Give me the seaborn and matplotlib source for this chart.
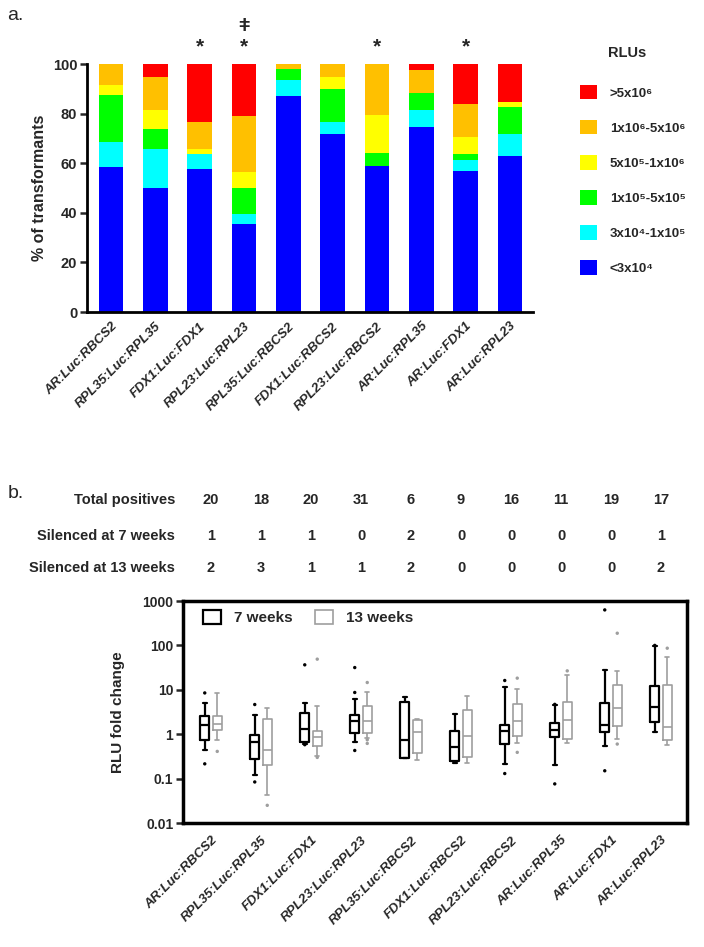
import numpy as np
import pandas as pd
import seaborn as sns
import matplotlib.pyplot as plt
import matplotlib.transforms as mtransforms
from matplotlib.patches import Patch
from matplotlib.ticker import NullLocator

# constructs shared by both panels
constructs = ["AR:Luc:RBCS2", "RPL35:Luc:RPL35", "FDX1:Luc:FDX1", "RPL23:Luc:RPL23",
              "RPL35:Luc:RBCS2", "FDX1:Luc:RBCS2", "RPL23:Luc:RBCS2", "AR:Luc:RPL35",
              "AR:Luc:FDX1", "AR:Luc:RPL23"]

# panel a: % of transformants in each RLU bin (bottom to top)
rlu_bins = ["<3x10\u2074", "3x10\u2074-1x10\u2075", "1x10\u2075-5x10\u2075",
            "5x10\u2075-1x10\u2076", "1x10\u2076-5x10\u2076", ">5x10\u2076"]
bin_colors = ["#0000ff", "#00ffff", "#00ff00", "#ffff00", "#ffc000", "#ff0000"]
pct_lt3e4 = [58.3, 50.1, 57.5, 35.3, 87.2, 71.9, 58.9, 74.4, 56.8, 63.0]
pct_3e4_1e5 = [10.3, 15.6, 6.4, 4.3, 6.5, 4.8, 0.0, 7.0, 4.6, 8.7]
pct_1e5_5e5 = [18.9, 7.9, 0.0, 10.5, 4.2, 13.1, 5.2, 6.9, 2.3, 10.9]
pct_5e5_1e6 = [4.0, 8.0, 1.9, 6.2, 0.0, 5.0, 15.3, 0.0, 6.8, 2.2]
pct_1e6_5e6 = [8.5, 13.0, 10.7, 22.8, 2.1, 5.2, 20.6, 9.4, 13.5, 0.0]
pct_gt5e6 = [0.0, 5.4, 23.5, 20.9, 0.0, 0.0, 0.0, 2.3, 16.0, 15.2]
star_marks = ["", "", "*", "*", "", "", "*", "", "*", ""]
dagger_marks = ["", "", "", "\u01c2", "", "", "", "", "", ""]

# panel b: table rows
total_positives = [20, 18, 20, 31, 6, 9, 16, 11, 19, 17]
silenced_7wk = [1, 1, 1, 0, 2, 0, 0, 0, 0, 1]
silenced_13wk = [2, 3, 1, 1, 2, 0, 0, 0, 0, 2]

# panel b: box summaries (whisker low, q1, median, q3, whisker high)
times = ["7 weeks", "13 weeks"]
time_colors = ["#000000", "#9e9e9e"]
box_7wk = [[0.45, 0.745, 1.6, 2.6, 5.1], [0.121, 0.283, 0.67, 0.95, 2.77],
           [0.6, 0.67, 1.32, 2.97, 5.1], [0.68, 1.07, 2.03, 2.68, 6.1],
           [0.29, 0.29, 0.73, 5.4, 6.8], [0.22, 0.255, 0.51, 1.21, 2.9],
           [0.21, 0.6, 1.17, 1.6, 11.5], [0.2, 0.87, 1.25, 1.77, 4.5],
           [0.55, 1.11, 1.62, 5.1, 28], [1.15, 1.86, 4.0, 11.9, 96]]
box_13wk = [[0.73, 1.27, 1.68, 2.6, 8.4], [0.042, 0.2, 0.45, 2.25, 3.85],
            [0.325, 0.53, 0.86, 1.19, 4.4], [0.81, 1.07, 2.0, 4.3, 8.8],
            [0.26, 0.38, 1.15, 2.07, 2.2], [0.226, 0.31, 0.89, 3.47, 7.2],
            [0.65, 0.9, 2.0, 4.7, 10.3], [0.65, 0.77, 2.07, 5.2, 21.7],
            [0.76, 1.51, 3.9, 12.9, 26], [0.585, 0.745, 1.44, 12.9, 55]]
fliers_7wk = [[8.5, 0.215], [4.66, 0.084], [36.5, 0.58], [31.7, 8.7, 0.43], [], [],
              [16.2, 0.13], [4.7, 0.076], [630, 0.15], [100]]
fliers_13wk = [[0.41], [0.025], [49, 0.3], [14.6, 0.75, 0.62], [], [],
               [18.3, 0.39], [26.7], [188, 0.6], [86.5]]

sns.set_style("white")
plt.rcParams['font.family'] = ['Liberation Sans', 'DejaVu Sans']

fig = plt.figure(figsize=(7.04, 9.47), dpi=100)
W, H = 704, 947
axa = fig.add_axes([87 / W, 1 - 312 / H, 446 / W, 248 / H])
axb = fig.add_axes([183 / W, 1 - 823 / H, 504 / W, 222 / H])

# ---- panel a: stacked bars, drawn as overlapping cumulative bars
segments = [pct_lt3e4, pct_3e4_1e5, pct_1e5_5e5, pct_5e5_1e6, pct_1e6_5e6, pct_gt5e6]
cum = np.cumsum(np.array(segments), axis=0)
for k in range(len(rlu_bins) - 1, -1, -1):
    sns.barplot(x=constructs, y=cum[k], color=bin_colors[k], saturation=1,
                width=0.56, errorbar=None, linewidth=0, ax=axa)
axa.set_xlim(-0.54, 9.52)
axa.set_ylim(0, 100)
axa.set_yticks([0, 20, 40, 60, 80, 100])
axa.set_xticks(range(len(constructs)))
axa.set_xticklabels(constructs, rotation=45, ha='right', rotation_mode='anchor',
                    fontstyle='italic', fontweight='bold', fontsize=9.5)
for lab in axa.get_yticklabels():
    lab.set_fontweight('bold')
    lab.set_fontsize(10.5)
axa.tick_params(axis='x', length=0, pad=6)
axa.tick_params(axis='y', length=5, width=1.8, direction='out', left=True, pad=2)
sns.despine(ax=axa)
for sp in ['left', 'bottom']:
    axa.spines[sp].set_linewidth(2)
    axa.spines[sp].set_color('black')
axa.set_ylabel('% of transformants', fontsize=11.5, fontweight='bold')
axa.yaxis.set_label_coords(-0.09, 0.5)

trans_a = mtransforms.blended_transform_factory(axa.transData, axa.transAxes)
for i, (s, d) in enumerate(zip(star_marks, dagger_marks)):
    if s:
        axa.text(i, 1.068, s, transform=trans_a, ha='center', va='center',
                 fontsize=15, fontweight='bold')
    if d:
        axa.text(i, 1.15, d, transform=trans_a, ha='center', va='center',
                 fontsize=14, fontweight='bold')

handles = [Patch(facecolor=c, edgecolor='none') for c in bin_colors]
fig.legend(handles[::-1], rlu_bins[::-1], loc='upper left',
           bbox_to_anchor=(580 / W, 1 - 85 / H), frameon=False,
           prop={'weight': 'bold', 'size': 9.5}, handlelength=1.3,
           handleheight=1.3, handletextpad=0.95, labelspacing=1.55,
           borderpad=0, borderaxespad=0)
fig.text(608 / W, 1 - 53 / H, 'RLUs', fontsize=10.5, fontweight='bold', va='center')
fig.text(7 / W, 1 - 15 / H, 'a.', fontsize=14, va='center')

# ---- panel b: box plots of RLU fold change
box_rows = []
for t, summ in zip(times, [box_7wk, box_13wk]):
    for c, s in zip(constructs, summ):
        for v in s:
            box_rows.append((c, t, v))
box_df = pd.DataFrame(box_rows, columns=['construct', 'time', 'fold'])

for t, lw in zip(times, [1.6, 1.2]):
    sns.boxplot(data=box_df[box_df['time'] == t], x='construct', y='fold',
                hue='time', order=constructs, hue_order=times, palette=time_colors,
                fill=False, width=0.5, gap=0.3, dodge=True, whis=(0, 100),
                showfliers=False, linewidth=lw, log_scale=True, legend=False, ax=axb)

flier_rows = []
for t, off, fl in zip(times, [-0.125, 0.125], [fliers_7wk, fliers_13wk]):
    for i, vals in enumerate(fl):
        for v in vals:
            flier_rows.append((i + off, t, v))
flier_df = pd.DataFrame(flier_rows, columns=['pos', 'time', 'fold'])
sns.scatterplot(data=flier_df, x='pos', y='fold', hue='time', hue_order=times,
                palette=time_colors, s=6, marker='o', edgecolor='none',
                legend=False, ax=axb)

axb.set_xlim(-0.56, 9.52)
axb.set_ylim(0.01, 1000)
axb.set_yticks([0.01, 0.1, 1, 10, 100, 1000])
axb.set_yticklabels(['0.01', '0.1', '1', '10', '100', '1000'], fontweight='bold',
                    fontsize=10)
axb.yaxis.set_minor_locator(NullLocator())
axb.set_xticks(range(len(constructs)))
axb.set_xticklabels(constructs, rotation=45, ha='right', rotation_mode='anchor',
                    fontstyle='italic', fontweight='bold', fontsize=9.5)
axb.tick_params(axis='x', length=0, pad=8)
axb.tick_params(axis='y', length=5, width=1.8, direction='out', left=True, pad=2)
for sp in axb.spines.values():
    sp.set_linewidth(2.5)
    sp.set_color('black')
axb.set_xlabel('')
axb.set_ylabel('RLU fold change', fontsize=11, fontweight='bold')
axb.yaxis.set_label_coords(-0.115, 0.5)

leg_handles = [Patch(facecolor='white', edgecolor=time_colors[0], linewidth=1.6),
               Patch(facecolor='white', edgecolor=time_colors[1], linewidth=1.2)]
axb.legend(leg_handles, times, loc='upper left', bbox_to_anchor=(203 / W, 1 - 610 / H),
           bbox_transform=fig.transFigure, ncol=2, frameon=False,
           prop={'weight': 'bold', 'size': 11}, handlelength=1.2, handleheight=1.0,
           handletextpad=0.8, columnspacing=1.5, borderpad=0, borderaxespad=0)

# table above panel b
fig.text(8 / W, 1 - 493 / H, 'b.', fontsize=14, va='center')
trans_b = mtransforms.blended_transform_factory(axb.transData, fig.transFigure)
rows = [('Total positives', total_positives, 500),
        ('Silenced at 7 weeks', silenced_7wk, 536),
        ('Silenced at 13 weeks', silenced_13wk, 568)]
for label, vals, ypx in rows:
    fig.text(175 / W, 1 - ypx / H, label, ha='right', va='center',
             fontsize=10.5, fontweight='bold')
    for i, v in enumerate(vals):
        axb.text(i, 1 - ypx / H, str(v), transform=trans_b, ha='center',
                 va='center', fontsize=10.5, fontweight='bold')

fig.savefig('out.png', dpi=100)
